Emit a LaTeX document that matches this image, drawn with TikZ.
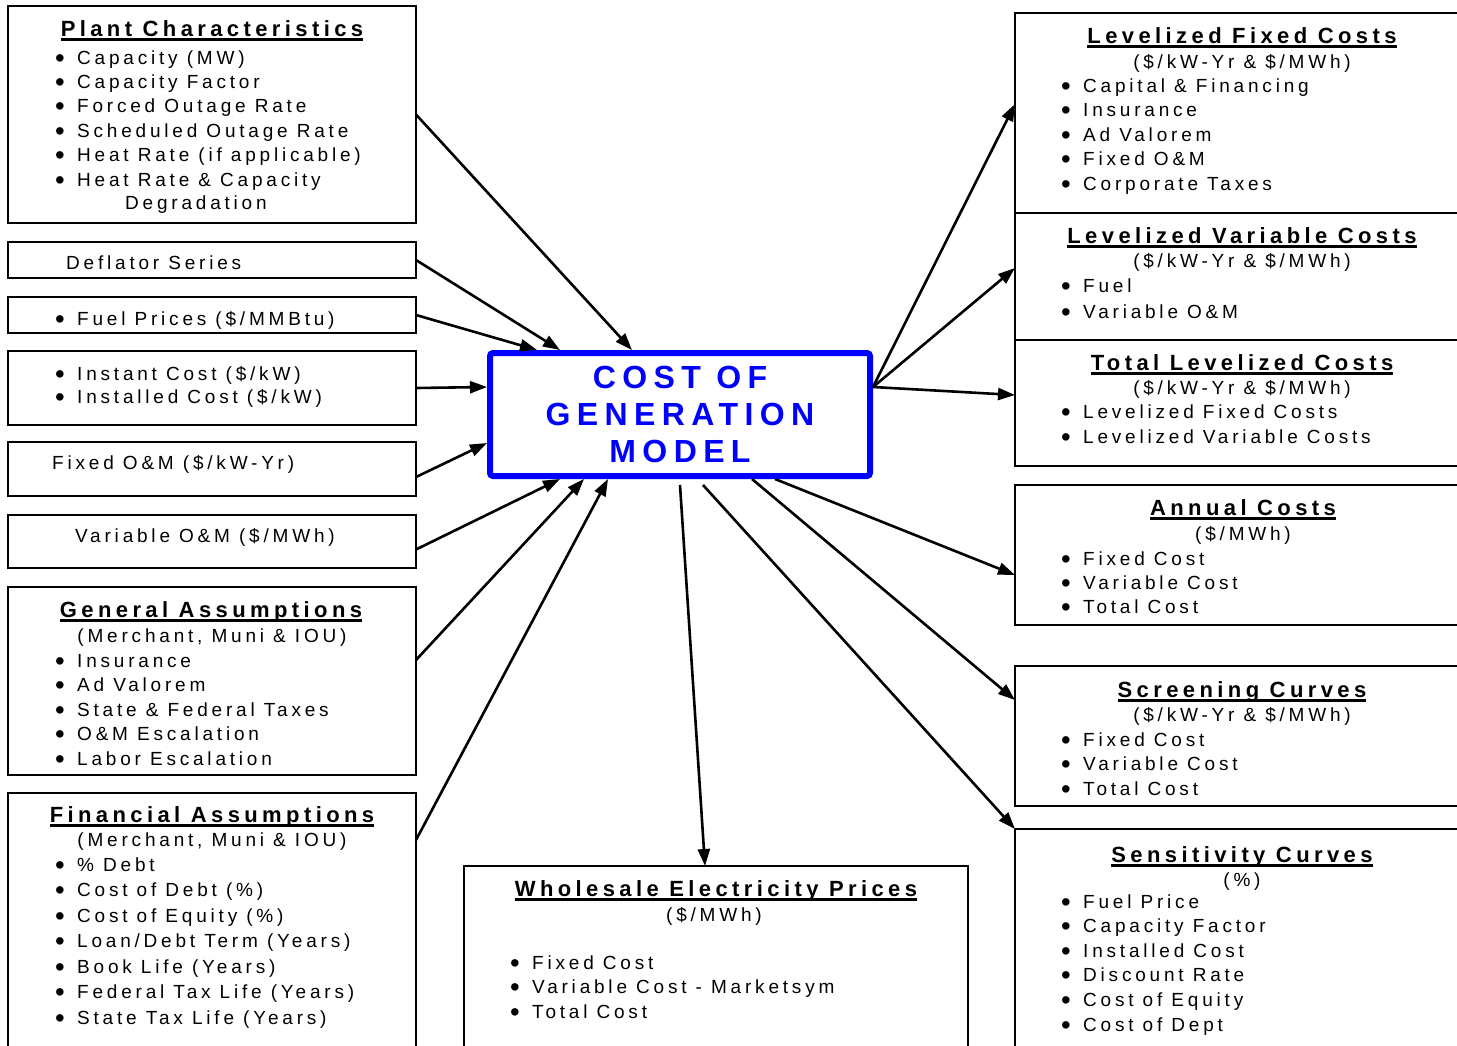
\documentclass[tikz,border=0pt]{standalone}
\usepackage{fontspec}
\setmainfont{Liberation Sans}[LetterSpace=20]
\usetikzlibrary{arrows.meta}
\newcommand\uln[1]{\setbox0\hbox{#1}\rlap{\rule[-4.5pt]{\wd0}{2.4pt}}\box0}
\newcommand\blt{\makebox[22pt][l]{\raisebox{-3pt}[0pt][0pt]{\scalebox{1.45}{\textbullet}}}}
\begin{document}
\begin{tikzpicture}[x=1pt, y=-1pt,
  box/.style={draw, line width=1.4pt, anchor=north west, inner sep=0pt, outer sep=0pt},
  model/.style={draw=blue, line width=6pt, rounded corners=3pt, minimum width=380pt, minimum height=123pt, align=center, text=blue, font=\bfseries\fontsize{32}{37}\selectfont},
  ttl/.style={anchor=base, inner sep=0pt, font=\bfseries\fontsize{22}{22}\selectfont},
  sub/.style={anchor=base, inner sep=0pt, font=\fontsize{19}{20}\selectfont},
  item/.style={anchor=base west, inner sep=0pt, font=\fontsize{19}{20}\selectfont},
  link/.style={line width=2.6pt, -{Triangle[length=17pt,width=12pt]}}]
\useasboundingbox (0,0) rectangle (1457,1045);
\clip (0,0) rectangle (1457,1045);

% central model
\node[model] (model) at (680,414.5) {COST OF\\GENERATION\\MODEL};

% inputs (left column)
\node[box, minimum width=408pt, minimum height=217pt] (plant) at (8,6) {};
\node[ttl] (plantT) at (212,36) {\uln{Plant Characteristics}};
\foreach \t [count=\i from 0] in {Capacity (MW), Capacity Factor, Forced Outage Rate, Scheduled Outage Rate, Heat Rate (if applicable), Heat Rate \& Capacity}
  \node[item] (plant\i) at (55,{64+24.4*\i}) {\blt\t};
\node[item] (plant6) at (125,209) {Degradation};

\node[box, minimum width=408pt, minimum height=36pt] (deflator) at (8,242) {};
\node[item] (deflatorT) at (66,269) {Deflator Series};

\node[box, minimum width=408pt, minimum height=36pt] (fuel) at (8,297) {};
\node[item] (fuelT) at (55,325) {\blt Fuel Prices (\$/MMBtu)};

\node[box, minimum width=408pt, minimum height=74pt] (instant) at (8,351) {};
\node[item] (instant0) at (55,380) {\blt Instant Cost (\$/kW)};
\node[item] (instant1) at (55,403.5) {\blt Installed Cost (\$/kW)};

\node[box, minimum width=408pt, minimum height=54pt] (fixom) at (8,442) {};
\node[item] (fixomT) at (52,469) {Fixed O\&M (\$/kW-Yr)};

\node[box, minimum width=408pt, minimum height=53pt] (varom) at (8,515) {};
\node[item] (varomT) at (75,542) {Variable O\&M (\$/MWh)};

\node[box, minimum width=408pt, minimum height=188pt] (general) at (8,587) {};
\node[ttl] (generalT) at (211,617) {\uln{General Assumptions}};
\node[sub] (generalS) at (212,642) {(Merchant, Muni \& IOU)};
\foreach \t [count=\i from 0] in {Insurance, Ad Valorem, State \& Federal Taxes, O\&M Escalation, Labor Escalation}
  \node[item] (general\i) at (55,{667+24.5*\i}) {\blt\t};

\node[box, minimum width=408pt, minimum height=290pt] (financial) at (8,793) {};
\node[ttl] (financialT) at (212,822) {\uln{Financial Assumptions}};
\node[sub] (financialS) at (212,846) {(Merchant, Muni \& IOU)};
\foreach \t [count=\i from 0] in {\% Debt, Cost of Debt (\%), Cost of Equity (\%), Loan/Debt Term (Years), Book Life (Years), Federal Tax Life (Years), State Tax Life (Years)}
  \node[item] (financial\i) at (55,{871+25.5*\i}) {\blt\t};

% outputs (right column)
\node[box, minimum width=460pt, minimum height=200pt] (levfix) at (1015,13) {};
\node[ttl] (levfixT) at (1242,43) {\uln{Levelized Fixed Costs}};
\node[sub] (levfixS) at (1242,68) {(\$/kW-Yr \& \$/MWh)};
\foreach \t [count=\i from 0] in {Capital \& Financing, Insurance, Ad Valorem, Fixed O\&M, Corporate Taxes}
  \node[item] (levfix\i) at (1061,{92+24.5*\i}) {\blt\t};

\node[box, minimum width=460pt, minimum height=127pt] (levvar) at (1015,213) {};
\node[ttl] (levvarT) at (1242,243) {\uln{Levelized Variable Costs}};
\node[sub] (levvarS) at (1242,267) {(\$/kW-Yr \& \$/MWh)};
\foreach \t [count=\i from 0] in {Fuel, Variable O\&M}
  \node[item] (levvar\i) at (1061,{292+26*\i}) {\blt\t};

\node[box, minimum width=460pt, minimum height=126pt] (totlev) at (1015,340) {};
\node[ttl] (totlevT) at (1242,370) {\uln{Total Levelized Costs}};
\node[sub] (totlevS) at (1242,394) {(\$/kW-Yr \& \$/MWh)};
\foreach \t [count=\i from 0] in {Levelized Fixed Costs, Levelized Variable Costs}
  \node[item] (totlev\i) at (1061,{418+25*\i}) {\blt\t};

\node[box, minimum width=460pt, minimum height=140pt] (annual) at (1015,485) {};
\node[ttl] (annualT) at (1243,515) {\uln{Annual Costs}};
\node[sub] (annualS) at (1243,540) {(\$/MWh)};
\foreach \t [count=\i from 0] in {Fixed Cost, Variable Cost, Total Cost}
  \node[item] (annual\i) at (1061,{565+24*\i}) {\blt\t};

\node[box, minimum width=460pt, minimum height=140pt] (screen) at (1015,666) {};
\node[ttl] (screenT) at (1242,697) {\uln{Screening Curves}};
\node[sub] (screenS) at (1242,721) {(\$/kW-Yr \& \$/MWh)};
\foreach \t [count=\i from 0] in {Fixed Cost, Variable Cost, Total Cost}
  \node[item] (screen\i) at (1061,{746+24.5*\i}) {\blt\t};

\node[box, minimum width=460pt, minimum height=260pt] (sens) at (1015,829) {};
\node[ttl] (sensT) at (1242,862) {\uln{Sensitivity Curves}};
\node[sub] (sensS) at (1242,886) {(\%)};
\foreach \t [count=\i from 0] in {Fuel Price, Capacity Factor, Installed Cost, Discount Rate, Cost of Equity, Cost of Dept}
  \node[item] (sens\i) at (1061,{908+24.6*\i}) {\blt\t};

\node[box, minimum width=504pt, minimum height=220pt] (whole) at (464,866) {};
\node[ttl] (wholeT) at (716,896) {\uln{Wholesale Electricity Prices}};
\node[sub] (wholeS) at (714,921) {(\$/MWh)};
\foreach \t [count=\i from 0] in {Fixed Cost, Variable Cost - Marketsym, Total Cost}
  \node[item] (whole\i) at (510,{969+24.5*\i}) {\blt\t};

% connectors into the model
\draw[link] (plant.east) -- ([xshift=145pt]model.north west);
\draw[link] (deflator.east) -- ([xshift=73pt]model.north west);
\draw[link] (fuel.east) -- ([xshift=50pt]model.north west);
\draw[link] (instant.east) -- ([yshift=-37pt]model.north west);
\draw[link] ([yshift=-8pt]fixom.east) -- ([yshift=-93pt]model.north west);
\draw[link] ([yshift=-8pt]varom.east) -- ([xshift=73pt]model.south west);
\draw[link] ([yshift=21pt]general.east) -- ([xshift=97pt]model.south west);
\draw[link] ([yshift=-47pt]financial.north east) -- ([xshift=121pt]model.south west);

% connectors out of the model
\draw[link] ([yshift=-37pt]model.north east) -- ([yshift=-91pt]levfix.north west);
\draw[link] ([yshift=-37pt]model.north east) -- ([yshift=-55pt]levvar.north west);
\draw[link] ([yshift=-37pt]model.north east) -- ([yshift=-55pt]totlev.north west);
\draw[link] ([xshift=288pt]model.south west) -- ([yshift=-90pt]annual.north west);
\draw[link] ([xshift=265pt]model.south west) -- ([yshift=-34pt]screen.north west);
\draw[link] ([xshift=216pt,yshift=-6pt]model.south west) -- (sens.north west);
\draw[link] ([xshift=193pt,yshift=-6pt]model.south west) -- ([xshift=241pt]whole.north west);
\end{tikzpicture}
\end{document}
